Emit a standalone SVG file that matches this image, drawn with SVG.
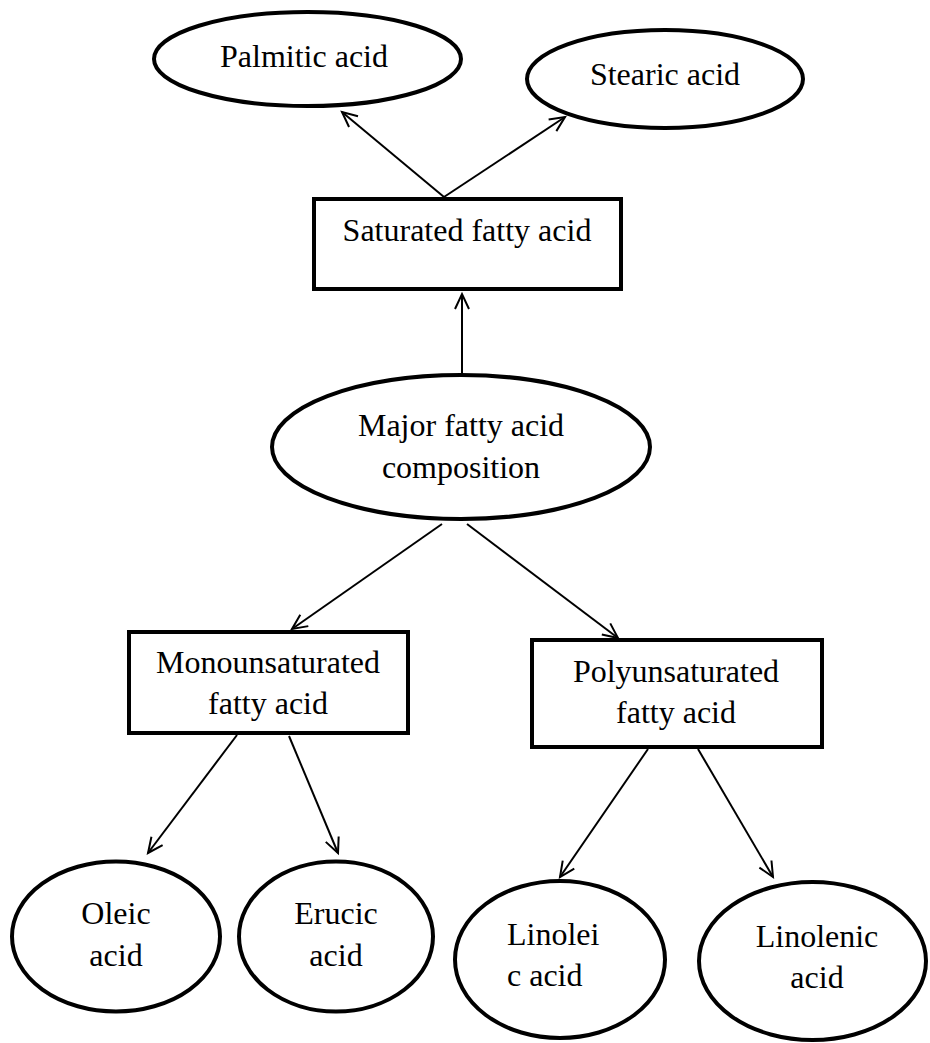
<svg xmlns="http://www.w3.org/2000/svg" width="930" height="1043" viewBox="0 0 930 1043">
<style>
.n{fill:#fff;stroke:#000;stroke-width:4}
.t{font-family:"Liberation Serif","Times New Roman",serif;font-size:32px;fill:#000;text-anchor:middle}
.c line{stroke:#000;stroke-width:2}
</style>
<defs>
<marker id="arr" markerUnits="userSpaceOnUse" markerWidth="20" markerHeight="20" refX="16" refY="8" orient="auto" viewBox="0 0 20 16" overflow="visible">
<path d="M1 1 L16 8 L1 15" fill="none" stroke="#000" stroke-width="2"/>
</marker>
</defs>
<rect width="930" height="1043" fill="#fff"/>
<g class="c" id="connectors">
<line x1="444" y1="197" x2="342" y2="112" marker-end="url(#arr)"/>
<line x1="444" y1="197" x2="565" y2="117" marker-end="url(#arr)"/>
<line x1="462" y1="373" x2="462" y2="294" marker-end="url(#arr)"/>
<line x1="442" y1="524" x2="292" y2="629" marker-end="url(#arr)"/>
<line x1="467" y1="524" x2="618" y2="638" marker-end="url(#arr)"/>
<line x1="237" y1="735" x2="148" y2="853" marker-end="url(#arr)"/>
<line x1="289" y1="736" x2="338" y2="853" marker-end="url(#arr)"/>
<line x1="648" y1="749" x2="560" y2="877" marker-end="url(#arr)"/>
<line x1="698" y1="749" x2="773" y2="877" marker-end="url(#arr)"/>
</g>
<g id="palmitic"><ellipse class="n" cx="307.5" cy="59" rx="153.5" ry="47"/><text class="t" x="304" y="67">Palmitic acid</text></g>
<g id="stearic"><ellipse class="n" cx="665" cy="79" rx="138" ry="49"/><text class="t" x="665" y="85">Stearic acid</text></g>
<g id="saturated"><rect class="n" x="314" y="199" width="307" height="90"/><text class="t" x="467" y="241">Saturated fatty acid</text></g>
<g id="major"><ellipse class="n" cx="461" cy="447" rx="189" ry="72"/><text class="t" x="461" y="436">Major fatty acid</text><text class="t" x="461" y="478">composition</text></g>
<g id="mono"><rect class="n" x="129" y="632" width="279" height="101"/><text class="t" x="268" y="673">Monounsaturated</text><text class="t" x="268" y="714">fatty acid</text></g>
<g id="poly"><rect class="n" x="532" y="640" width="290" height="107"/><text class="t" x="676" y="682">Polyunsaturated</text><text class="t" x="676" y="723">fatty acid</text></g>
<g id="oleic"><ellipse class="n" cx="116" cy="936.5" rx="104" ry="75"/><text class="t" x="116" y="924">Oleic</text><text class="t" x="116" y="966">acid</text></g>
<g id="erucic"><ellipse class="n" cx="336" cy="936.5" rx="97" ry="75"/><text class="t" x="336" y="924">Erucic</text><text class="t" x="336" y="966">acid</text></g>
<g id="linoleic"><ellipse class="n" cx="560" cy="959.5" rx="105" ry="78.5"/><text class="t" x="507" y="945" style="text-anchor:start">Linolei</text><text class="t" x="507" y="986" style="text-anchor:start">c acid</text></g>
<g id="linolenic"><ellipse class="n" cx="812.5" cy="961" rx="113.5" ry="79"/><text class="t" x="817" y="947">Linolenic</text><text class="t" x="817" y="988">acid</text></g>
</svg>
